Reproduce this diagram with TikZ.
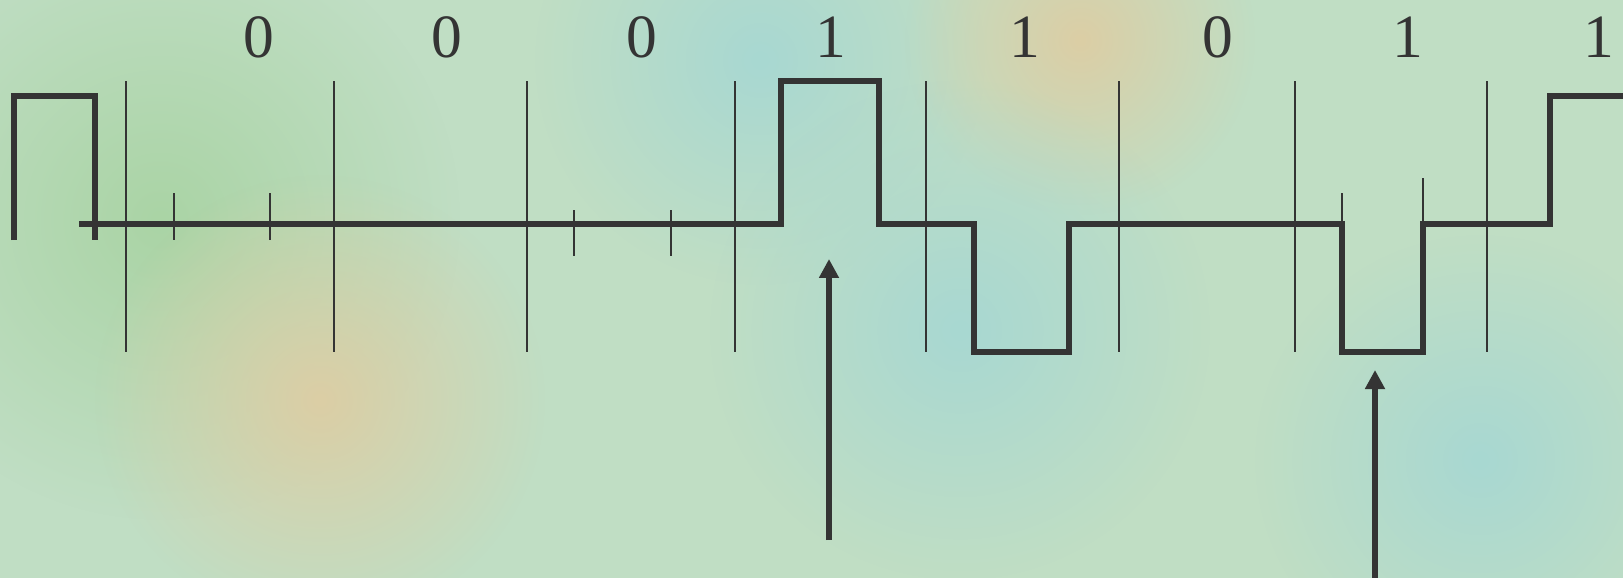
\documentclass[tikz,border=0pt]{standalone}
\usepackage{fontspec}
\setmainfont{Liberation Serif}
\usetikzlibrary{arrows.meta, fadings}

\definecolor{inkgrey}{RGB}{52,52,52}
\definecolor{bgmint}{RGB}{192,222,196}
\definecolor{bggreen}{RGB}{170,212,165}
\definecolor{bgtan}{RGB}{220,206,165}
\definecolor{bgteal}{RGB}{168,216,210}
\tikzfading[name=softblob, inner color=transparent!0, outer color=transparent!100]

\begin{document}
\begin{tikzpicture}[x=0.02cm, y=-0.02cm, >={Triangle[length=0.38cm,width=0.38cm]},
  bitlabel/.style={anchor=base, text=inkgrey, font=\fontsize{35}{40}\selectfont},
  signal/.style={line width=3.1pt, inkgrey, line join=miter},
  slot/.style={line width=1.2pt, inkgrey},
  blob/.style={path fading=softblob},
  pointer/.style={->, line width=3pt, inkgrey}]
  \useasboundingbox (0,0) rectangle (1623,578);
  % background
  \fill[bgmint] (0,0) rectangle (1623,578);
  \fill[bggreen, blob] (160,220) circle (6cm);
  \fill[bgtan, blob] (320,400) circle (4.5cm);
  \fill[bgteal, blob] (760,60) circle (4.5cm);
  \fill[bgtan, blob] (1080,40) circle (3.5cm);
  \fill[bgteal, blob] (960,330) circle (5cm);
  \fill[bgteal, blob] (1480,460) circle (4.5cm);

  % bit values
  \foreach \x/\b [count=\i] in {259/0,447/0,642/0,831/1,1025/1,1218/0,1408/1,1599/1}
    \node[bitlabel] (bit\i) at (\x,57) {\b};

  % bit slots
  \foreach \x in {126,334,527,735,926,1119,1295,1487}
    \draw[slot] (\x,81) -- (\x,352);
  \foreach \x in {174,270}
    \draw[slot] (\x,193) -- (\x,240);
  \foreach \x in {574,671}
    \draw[slot] (\x,210) -- (\x,256);
  \draw[slot] (1342,193) -- (1342,224);
  \draw[slot] (1423,178) -- (1423,224);

  % line signal
  \draw[signal] (14,240) |- (95,96) -- (95,240);
  \draw[signal] (79,224) -- (781,224) -- (781,81) -- (879,81) -- (879,224)
    -- (974,224) -- (974,352) -- (1069,352) -- (1069,224) -- (1342,224)
    -- (1342,352) -- (1423,352) -- (1423,224) -- (1550,224) -- (1550,96) -- (1623,96);

  % pointers
  \coordinate (tailA) at (829,540);
  \coordinate (headA) at (829,259);
  \coordinate (tailB) at (1375,578);
  \coordinate (headB) at (1375,370);
  \draw[pointer] (tailA) -- (headA);
  \draw[pointer] (tailB) -- (headB);
\end{tikzpicture}
\end{document}
